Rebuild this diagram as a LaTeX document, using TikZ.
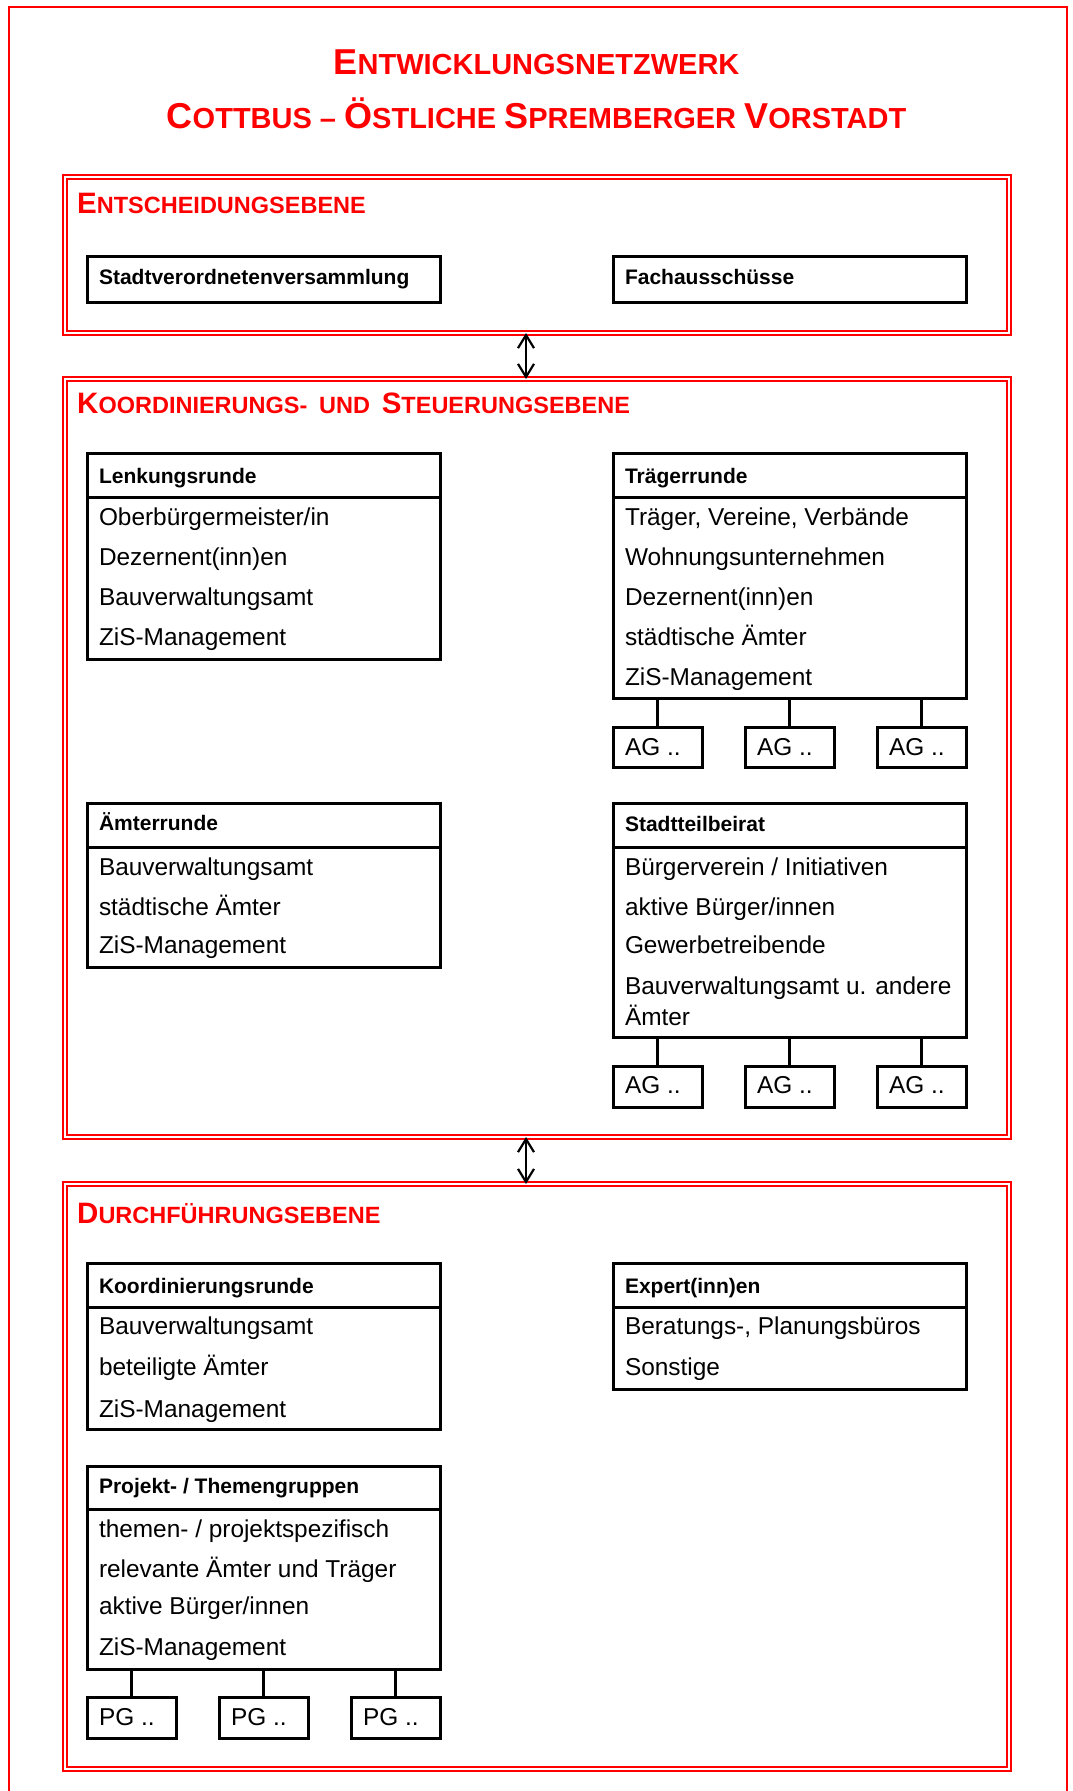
\documentclass[tikz,border=0pt]{standalone}
\usepackage{fontspec}
\setmainfont{Liberation Sans}
\usetikzlibrary{arrows.meta}
\definecolor{hred}{RGB}{255,0,0}
\newcommand\tbig{\fontsize{36}{40}\selectfont}
\newcommand\tsml{\fontsize{29}{32}\selectfont}
\newcommand\hbig{\fontsize{29.5}{32}\selectfont}
\newcommand\hsml{\fontsize{23.5}{26}\selectfont}
\begin{document}
\begin{tikzpicture}[x=1pt,y=-1pt,
  frame/.style={draw=black, line width=3pt, anchor=north west, inner sep=0pt, outer sep=0pt, minimum width=353pt},
  agbox/.style={frame, minimum width=89pt},
  level/.style={draw=hred, double=white, line width=2.3pt, double distance=1.8pt, anchor=north west, inner sep=0pt, outer sep=0pt, minimum width=944pt},
  txt/.style={anchor=base west, inner sep=0pt, outer sep=0pt, font=\fontsize{24.4}{28}\selectfont},
  hd/.style={anchor=base west, inner sep=0pt, outer sep=0pt, font=\fontsize{21}{24}\selectfont\bfseries},
  ttl/.style={anchor=base, inner sep=0pt, text=hred, font=\bfseries},
  lvl/.style={anchor=base west, inner sep=0pt, text=hred, font=\bfseries},
  stem/.style={line width=3pt},
  link/.style={line width=2.8pt, {Straight Barb[length=13pt,width=16pt,line width=2.2pt]}-{Straight Barb[length=13pt,width=16pt,line width=2.2pt]}}
]
\fill[white] (0,0) rectangle (1073,1791);
\useasboundingbox (0,0) rectangle (1073,1791);
\draw[hred, line width=2pt] (9,1791) -- (9,7) -- (1067,7) -- (1067,1791);

% title
\node[ttl] (t1) at (536.5,74) {{\tbig E}{\tsml NTWICKLUNGSNETZWERK}};
\node[ttl] (t2) at (536.5,128) {{\tbig C}{\tsml OTTBUS – }{\tbig Ö}{\tsml STLICHE }{\tbig S}{\tsml PREMBERGER }{\tbig V}{\tsml ORSTADT}};

% levels
\node[level, minimum height=156pt] (lev1) at (65,177) {};
\node[level, minimum height=758pt] (lev2) at (65,379) {};
\node[level, minimum height=585pt] (lev3) at (65,1184) {};

\node[lvl] (h1) at (77,213) {{\hbig E}{\hsml NTSCHEIDUNGSEBENE}};
\node[lvl] (h2) at (77,413) {{\hbig K}{\hsml OORDINIERUNGS-\hspace{0.5em}UND\hspace{0.5em}}{\hbig S}{\hsml TEUERUNGSEBENE}};
\node[lvl] (h3) at (77,1223) {{\hbig D}{\hsml URCHFÜHRUNGSEBENE}};

% Entscheidungsebene
\node[frame, minimum height=46pt] (svv) at (87,256) {};
\node[hd] (svvT) at (99,284) {Stadtverordnetenversammlung};
\node[frame, minimum height=46pt] (fa) at (613,256) {};
\node[hd] (faT) at (625,284) {Fachausschüsse};

% Lenkungsrunde
\node[frame, minimum height=44pt] (lkH) at (87,453) {};
\node[frame, minimum height=162pt] (lkB) at (87,497) {};
\node[hd] (lkT) at (99,483) {Lenkungsrunde};
\node[txt] (lk1) at (99,525) {Oberbürgermeister/in};
\node[txt] (lk2) at (99,565) {Dezernent(inn)en};
\node[txt] (lk3) at (99,605) {Bauverwaltungsamt};
\node[txt] (lk4) at (99,645) {ZiS-Management};

% Traegerrunde
\node[frame, minimum height=44pt] (trH) at (613,453) {};
\node[frame, minimum height=201pt] (trB) at (613,497) {};
\node[hd] (trT) at (625,483) {Trägerrunde};
\node[txt] (tr1) at (625,525) {Träger, Vereine, Verbände};
\node[txt] (tr2) at (625,565) {Wohnungsunternehmen};
\node[txt] (tr3) at (625,605) {Dezernent(inn)en};
\node[txt] (tr4) at (625,645) {städtische Ämter};
\node[txt] (tr5) at (625,685) {ZiS-Management};
\node[agbox, minimum height=40pt] (ag1) at (613,727) {};
\node[agbox, minimum height=40pt] (ag2) at (745,727) {};
\node[agbox, minimum height=40pt] (ag3) at (877,727) {};
\node[txt] (ag1T) at (625,755) {AG ..};
\node[txt] (ag2T) at (757,755) {AG ..};
\node[txt] (ag3T) at (889,755) {AG ..};
\draw[stem] (ag1.north |- trB.south) -- (ag1.north);
\draw[stem] (ag2.north |- trB.south) -- (ag2.north);
\draw[stem] (ag3.north |- trB.south) -- (ag3.north);

% Aemterrunde
\node[frame, minimum height=44pt] (amH) at (87,803) {};
\node[frame, minimum height=120pt] (amB) at (87,847) {};
\node[hd] (amT) at (99,830) {Ämterrunde};
\node[txt] (am1) at (99,875) {Bauverwaltungsamt};
\node[txt] (am2) at (99,915) {städtische Ämter};
\node[txt] (am3) at (99,953) {ZiS-Management};

% Stadtteilbeirat
\node[frame, minimum height=44pt] (stH) at (613,803) {};
\node[frame, minimum height=190pt] (stB) at (613,847) {};
\node[hd] (stT) at (625,831) {Stadtteilbeirat};
\node[txt] (st1) at (625,875) {Bürgerverein / Initiativen};
\node[txt] (st2) at (625,915) {aktive Bürger/innen};
\node[txt] (st3) at (625,953) {Gewerbetreibende};
\node[txt] (st4) at (625,994) {Bauverwaltungsamt u. andere};
\node[txt] (st5) at (625,1025) {Ämter};
\node[agbox, minimum height=41pt] (ag4) at (613,1066) {};
\node[agbox, minimum height=41pt] (ag5) at (745,1066) {};
\node[agbox, minimum height=41pt] (ag6) at (877,1066) {};
\node[txt] (ag4T) at (625,1093) {AG ..};
\node[txt] (ag5T) at (757,1093) {AG ..};
\node[txt] (ag6T) at (889,1093) {AG ..};
\draw[stem] (ag4.north |- stB.south) -- (ag4.north);
\draw[stem] (ag5.north |- stB.south) -- (ag5.north);
\draw[stem] (ag6.north |- stB.south) -- (ag6.north);

% Koordinierungsrunde
\node[frame, minimum height=44pt] (krH) at (87,1263) {};
\node[frame, minimum height=122pt] (krB) at (87,1307) {};
\node[hd] (krT) at (99,1293) {Koordinierungsrunde};
\node[txt] (kr1) at (99,1334) {Bauverwaltungsamt};
\node[txt] (kr2) at (99,1375) {beteiligte Ämter};
\node[txt] (kr3) at (99,1417) {ZiS-Management};

% Expert(inn)en
\node[frame, minimum height=44pt] (exH) at (613,1263) {};
\node[frame, minimum height=82pt] (exB) at (613,1307) {};
\node[hd] (exT) at (625,1293) {Expert(inn)en};
\node[txt] (ex1) at (625,1334) {Beratungs-, Planungsbüros};
\node[txt] (ex2) at (625,1375) {Sonstige};

% Projekt- / Themengruppen
\node[frame, minimum height=43pt] (pjH) at (87,1466) {};
\node[frame, minimum height=160pt] (pjB) at (87,1509) {};
\node[hd] (pjT) at (99,1493) {Projekt- / Themengruppen};
\node[txt] (pj1) at (99,1537) {themen- / projektspezifisch};
\node[txt] (pj2) at (99,1577) {relevante Ämter und Träger};
\node[txt] (pj3) at (99,1614) {aktive Bürger/innen};
\node[txt] (pj4) at (99,1655) {ZiS-Management};
\node[agbox, minimum height=41pt] (pg1) at (87,1697) {};
\node[agbox, minimum height=41pt] (pg2) at (219,1697) {};
\node[agbox, minimum height=41pt] (pg3) at (351,1697) {};
\node[txt] (pg1T) at (99,1725) {PG ..};
\node[txt] (pg2T) at (231,1725) {PG ..};
\node[txt] (pg3T) at (363,1725) {PG ..};
\draw[stem] (pg1.north |- pjB.south) -- (pg1.north);
\draw[stem] (pg2.north |- pjB.south) -- (pg2.north);
\draw[stem] (pg3.north |- pjB.south) -- (pg3.north);

% links between levels
\draw[link] ([xshift=-11pt]lev1.south) -- ([xshift=-11pt]lev2.north);
\draw[link] ([xshift=-11pt]lev2.south) -- ([xshift=-11pt]lev3.north);
\end{tikzpicture}
\end{document}
